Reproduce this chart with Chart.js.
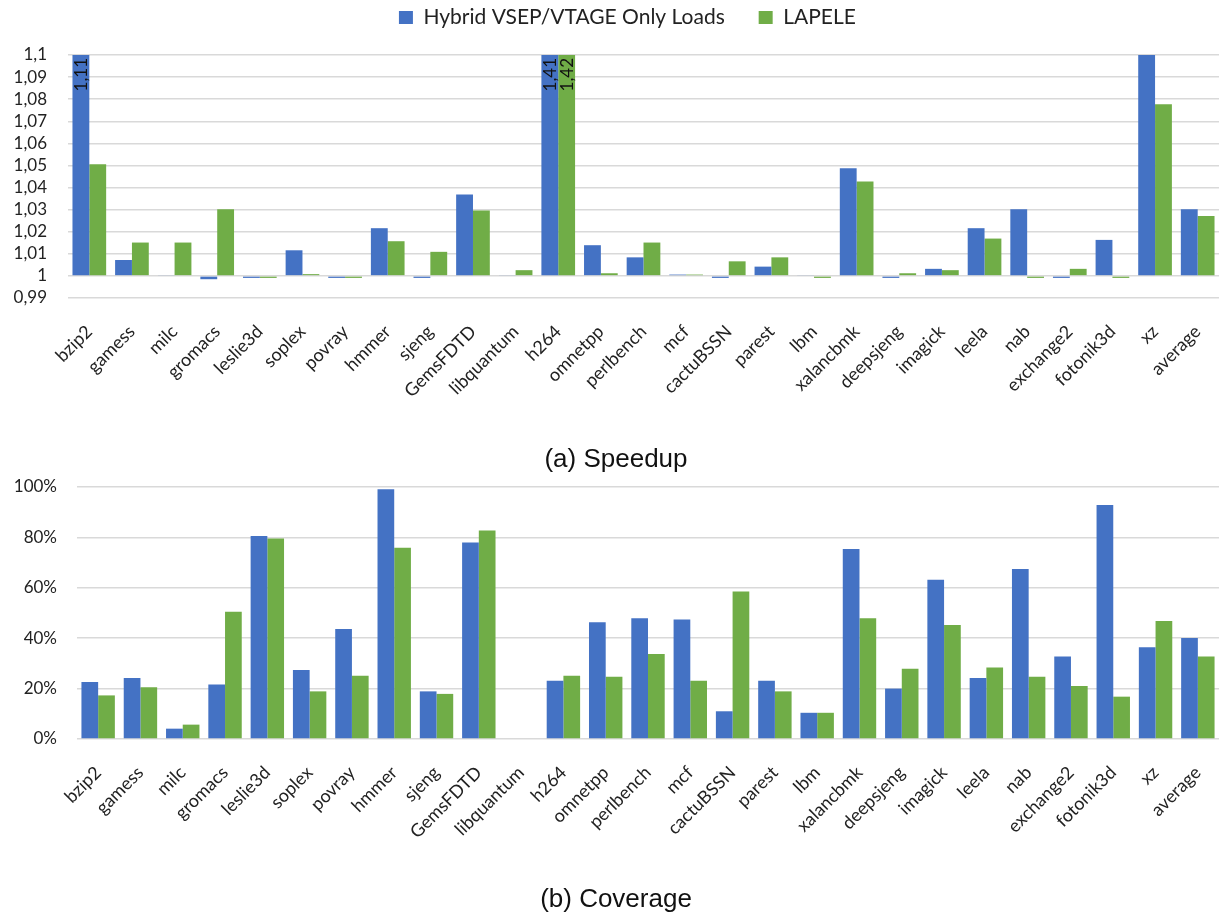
<!DOCTYPE html>
<html><head><meta charset="utf-8">
<script src="https://cdn.jsdelivr.net/npm/chart.js@4.4.0/dist/chart.umd.min.js"></script>
<style>
html,body{margin:0;padding:0;background:#fff;}
#wrap{position:relative;width:1219px;height:916px;overflow:hidden;background:#fff;}
canvas{position:absolute;left:0;}
.cap{position:absolute;left:0;width:1232px;text-align:center;font-family:"Liberation Sans",Arial,sans-serif;font-size:26px;line-height:26px;color:#111;}
</style></head><body>
<div id="wrap">
<canvas id="c1" width="1219" height="440" style="top:0"></canvas>
<canvas id="c2" width="1219" height="420" style="top:470px"></canvas>
<div class="cap" style="top:445px">(a) Speedup</div>
<div class="cap" style="top:885px">(b) Coverage</div>
</div>
<script>
const categories = ['bzip2','gamess','milc','gromacs','leslie3d','soplex','povray','hmmer','sjeng','GemsFDTD','libquantum','h264','omnetpp','perlbench','mcf','cactuBSSN','parest','lbm','xalancbmk','deepsjeng','imagick','leela','nab','exchange2','fotonik3d','xz','average'];
const seriesNames = ['Hybrid VSEP/VTAGE Only Loads', 'LAPELE'];
const speedupHybrid = [1.11, 1.0072, 1.0003, 0.9985, 0.9991, 1.0116, 0.9991, 1.0216, 0.9991, 1.0368, 1.0003, 1.41, 1.0139, 1.0084, 1.0006, 0.9991, 1.0042, 1.0003, 1.0487, 0.9991, 1.0032, 1.0216, 1.0302, 0.9991, 1.0163, 1.10, 1.0302];
const speedupLapele = [1.0505, 1.0151, 1.0151, 1.0302, 0.9991, 1.0008, 0.9991, 1.0157, 1.0109, 1.0296, 1.0026, 1.42, 1.0012, 1.0151, 1.0006, 1.0066, 1.0084, 0.9991, 1.0427, 1.0012, 1.0026, 1.0169, 0.9991, 1.0032, 0.9991, 1.0777, 1.0271];
const coverageHybrid = [0.226, 0.242, 0.041, 0.216, 0.806, 0.274, 0.437, 0.991, 0.189, 0.780, 0, 0.231, 0.463, 0.479, 0.474, 0.110, 0.231, 0.104, 0.754, 0.200, 0.632, 0.242, 0.675, 0.327, 0.929, 0.364, 0.401];
const coverageLapele = [0.173, 0.205, 0.057, 0.505, 0.796, 0.189, 0.251, 0.759, 0.179, 0.827, 0, 0.251, 0.247, 0.337, 0.231, 0.585, 0.189, 0.104, 0.479, 0.279, 0.452, 0.284, 0.247, 0.210, 0.168, 0.468, 0.327];
const speedupTicks = {min: 0.99, max: 1.1, step: 0.01};
const coverageTicks = {min: 0, max: 1, step: 0.2};

const BLUE = '#4472C4', GREEN = '#70AD47', GRID = '#D9D9D9', TXT = '#222';
const FONT = 'Lato, "Open Sans", sans-serif';
const fmt = v => String(Math.round(v * 100) / 100).replace('.', ',');

const overflowLabels = {
  id: 'overflowLabels',
  afterDatasetsDraw(chart) {
    const {ctx, chartArea, scales: {y}} = chart;
    ctx.save();
    ctx.font = '17px ' + FONT;
    ctx.fillStyle = '#111';
    ctx.textAlign = 'right';
    ctx.textBaseline = 'middle';
    chart.data.datasets.forEach((ds, di) => {
      const meta = chart.getDatasetMeta(di);
      ds.data.forEach((v, i) => {
        if (v > y.max + 1e-9) {
          const el = meta.data[i];
          ctx.save();
          ctx.translate(el.x + 1, chartArea.top + 3);
          ctx.rotate(-Math.PI / 2);
          ctx.fillText(fmt(v), 0, 0);
          ctx.restore();
        }
      });
    });
    ctx.restore();
  }
};

function makeChart(id, d1, d2, tk, opts) {
  return new Chart(document.getElementById(id), {
    type: 'bar',
    data: {
      labels: categories,
      datasets: [
        {label: seriesNames[0], data: d1, backgroundColor: BLUE, base: tk.min >= 0.5 ? 1 : 0, borderWidth: 0},
        {label: seriesNames[1], data: d2, backgroundColor: GREEN, base: tk.min >= 0.5 ? 1 : 0, borderWidth: 0}
      ]
    },
    plugins: opts.plugins || [],
    options: {
      responsive: false,
      animation: false,
      devicePixelRatio: 1,
      categoryPercentage: 0.79,
      barPercentage: 1.0,
      layout: {padding: 0},
      plugins: {
        tooltip: {enabled: false},
        legend: opts.legend,
        title: opts.title
      },
      scales: {
        x: {
          offset: true,
          grid: {display: false, drawTicks: false},
          border: {display: false},
          ticks: {
            autoSkip: false, minRotation: 45, maxRotation: 45,
            color: TXT, font: {family: FONT, size: 18}, padding: opts.xPad
          },
          afterFit(s) { s.height = opts.xHeight; s.paddingLeft = 0; s.paddingRight = 0; }
        },
        y: {
          min: tk.min, max: tk.max,
          grid: {color: GRID, lineWidth: 1.5, drawTicks: false},
          border: {display: false},
          ticks: {
            autoSkip: false,
            stepSize: tk.step, color: TXT, font: {family: FONT, size: 17},
            padding: opts.yPad, callback: opts.tickFmt
          },
          afterFit(s) { s.width = opts.yWidth; if (opts.top != null) s.paddingTop = opts.top; }
        }
      }
    }
  });
}

makeChart('c1', speedupHybrid, speedupLapele, speedupTicks, {
  plugins: [overflowLabels],
  legend: {
    display: true, position: 'top', align: 'center', fullSize: false,
    labels: {
      color: TXT, font: {family: FONT, size: 21}, boxWidth: 14, boxHeight: 13, padding: 7,
      generateLabels(chart) {
        return chart.data.datasets.map((ds, i) => ({
          text: i === 0 ? ds.label + '     ' : ds.label + '      ',
          fillStyle: ds.backgroundColor, strokeStyle: ds.backgroundColor,
          lineWidth: 0, hidden: false, datasetIndex: i, fontColor: TXT
        }));
      }
    }
  },
  title: {display: true, text: ' ', weight: 500, font: {size: 10, lineHeight: 1}, padding: {top: 3, bottom: 4}},
  xHeight: 440 - 298, yWidth: 68, top: null, xPad: 23, yPad: 21,
  tickFmt: v => fmt(v)
});

makeChart('c2', coverageHybrid, coverageLapele, coverageTicks, {
  legend: {display: false},
  title: {display: false},
  xHeight: 420 - 269, yWidth: 77, top: 17, xPad: 23, yPad: 20,
  tickFmt: v => Math.round(v * 100) + '%'
});
</script>
</body></html>
